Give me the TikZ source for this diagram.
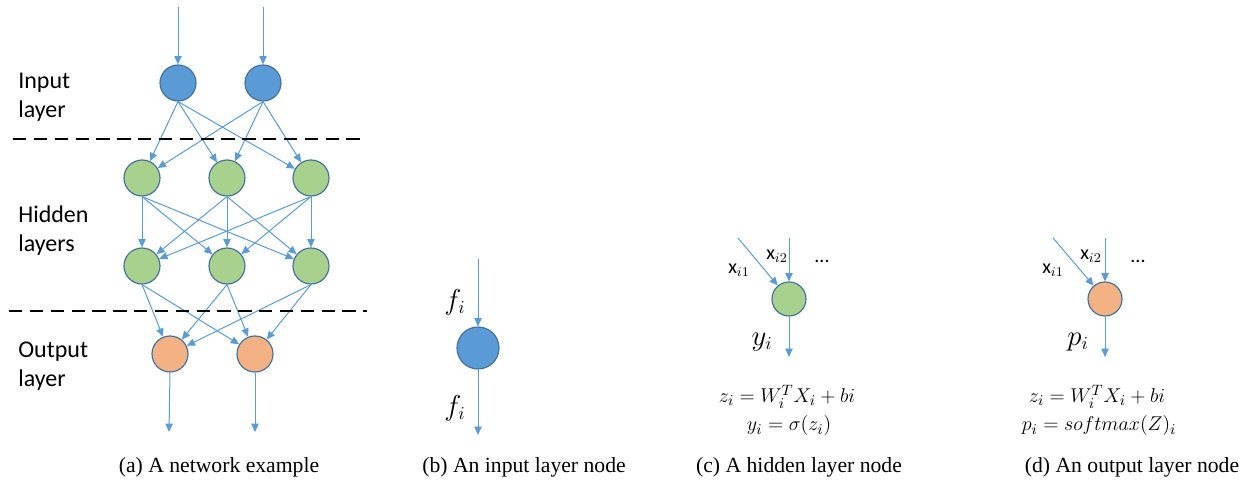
\documentclass[tikz,border=0pt]{standalone}
\usepackage{amsmath}
\usepackage{fontspec}
\setmainfont{Liberation Serif}
\newfontfamily\labelfont{Carlito}
\usetikzlibrary{arrows.meta}
\definecolor{nodeblue}  {HTML}{5B9BD5}
\definecolor{nodegreen} {HTML}{A9D18E}
\definecolor{nodeorange}{HTML}{F4B183}
\definecolor{rimblue}   {HTML}{41719C}
\definecolor{arrblue}   {HTML}{5B9BD5}
\tikzset{
  % Generic neuron circle
  neuron/.style={circle, draw=rimblue, line width=0.7pt, inner sep=0pt,
                 minimum size=#1},
  neuron/.default=21.6pt,
  % Layer-specific variants
  inneuron/.style ={neuron, fill=nodeblue},
  hidneuron/.style={neuron, fill=nodegreen},
  outneuron/.style={neuron, fill=nodeorange},
  % Arrows and separators
  arr/.style ={-{Triangle[length=5pt,width=4.4pt]}, line width=0.6pt, draw=arrblue},
  sepline/.style={line width=1.5pt, dash pattern=on 8pt off 4.5pt, draw=black},
  % Texts
  laytext/.style={font=\labelfont\fontsize{14.4}{17.4}\selectfont,
                  align=left, anchor=west, inner sep=0pt},
  mathlbl/.style={font=\fontsize{16}{18}\selectfont, inner sep=0pt},
  xlbl/.style={font=\labelfont\fontsize{12}{14}\selectfont, inner sep=0pt},
  eqn/.style={font=\fontsize{12.5}{13}\selectfont, inner sep=0pt},
  captext/.style={font=\fontsize{13}{15}\selectfont, inner sep=0pt},
}
\begin{document}
\begin{tikzpicture}[x=0.6pt,y=-0.6pt]
  \useasboundingbox (0,0) rectangle (1251,481);

  %% ── (a) Network ────────────────────────────────────────
  \node[inneuron] (i1) at (178,83) {};
  \node[inneuron] (i2) at (263,83) {};
  \foreach \n/\x in {1/142,2/227,3/311} {
    \node[hidneuron] (h\n) at (\x,178) {};
    \node[hidneuron] (g\n) at (\x,266) {};
  }
  \node[outneuron] (o1) at (170,354) {};
  \node[outneuron] (o2) at (255,354) {};

  %% Free ends
  \coordinate (i1in)  at (178,7);
  \coordinate (i2in)  at (263,7);
  \coordinate (o1out) at (169,432);
  \coordinate (o2out) at (255,432);

  \draw[arr] (i1in) -- (i1);
  \draw[arr] (i2in) -- (i2);
  \foreach \a in {1,2}
    \foreach \b in {1,2,3}
      \draw[arr] (i\a.south) -- (h\b);
  \foreach \a in {1,2,3}
    \foreach \b in {1,2,3}
      \draw[arr] (h\a.south) -- (g\b);
  \foreach \a in {1,2,3}
    \foreach \b in {1,2}
      \draw[arr] (g\a.south) -- (o\b);
  \draw[arr] (o1.south) -- (o1out);
  \draw[arr] (o2.south) -- (o2out);

  %% Layer separators
  \coordinate (s1a) at (13,139);  \coordinate (s1b) at (367,139);
  \coordinate (s2a) at (9,311);   \coordinate (s2b) at (367,311);
  \draw[sepline] (s1a) -- (s1b);
  \draw[sepline] (s2a) -- (s2b);

  \node[laytext] (inlab)  at (18,97)  {Input\\layer};
  \node[laytext] (hidlab) at (18,231) {Hidden\\layers};
  \node[laytext] (outlab) at (18,366) {Output\\layer};

  %% ── (b) Input node ─────────────────────────────────────
  \node[inneuron, minimum size=25.2pt] (bn) at (478,348) {};
  \coordinate (bin)  at (478,259);
  \coordinate (bout) at (478,435);
  \draw[arr] (bin) -- (bn);
  \draw[arr] (bn) -- (bout);
  \node[mathlbl] (bf1) at (455,302) {$f_i$};
  \node[mathlbl] (bf2) at (455,408) {$f_i$};

  %% ── (c) Hidden node ────────────────────────────────────
  \node[hidneuron, minimum size=20.4pt] (cn) at (789,299) {};
  \coordinate (cin1) at (738,238);
  \coordinate (cin2) at (789,238);
  \coordinate (cout) at (789,357);
  \draw[arr] (cin1) -- (cn);
  \draw[arr] (cin2) -- (cn);
  \draw[arr] (cn) -- (cout);
  \node[xlbl] (cx1) at (739,270) {x$_{i1}$};
  \node[xlbl] (cx2) at (777,256) {x$_{i2}$};
  \node[xlbl] (cdots) at (822,261) {...};
  \node[mathlbl] (cy) at (762,342) {$y_i$};
  \node[eqn] (ceq1) at (787,397) {$z_i = W_i^T X_i + bi$};
  \node[eqn] (ceq2) at (789,426) {$y_i = \sigma(z_i)$};

  %% ── (d) Output node ────────────────────────────────────
  \node[outneuron, minimum size=20.4pt] (dn) at (1105,299) {};
  \coordinate (din1) at (1053,238);
  \coordinate (din2) at (1105,238);
  \coordinate (dout) at (1105,357);
  \draw[arr] (din1) -- (dn);
  \draw[arr] (din2) -- (dn);
  \draw[arr] (dn) -- (dout);
  \node[xlbl] (dx1) at (1053,270) {x$_{i1}$};
  \node[xlbl] (dx2) at (1091,256) {x$_{i2}$};
  \node[xlbl] (ddots) at (1138,261) {...};
  \node[mathlbl] (dp) at (1078,342) {$p_i$};
  \node[eqn] (deq1) at (1097,397) {$z_i = W_i^T X_i + bi$};
  \node[eqn] (deq2) at (1099,426) {$p_i = softmax(Z)_i$};

  %% ── Captions ───────────────────────────────────────────
  \node[captext] (capa) at (219,467) {(a) A network example};
  \node[captext] (capb) at (524,467) {(b) An input layer node};
  \node[captext] (capc) at (799,467) {(c) A hidden layer node};
  \node[captext] (capd) at (1132,467) {(d) An output layer node};
\end{tikzpicture}
\end{document}
